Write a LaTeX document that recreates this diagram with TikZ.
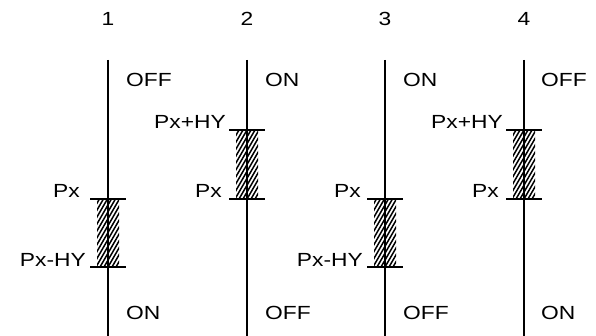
\documentclass[tikz,border=0pt]{standalone}
\usepackage{fontspec}
\setmainfont{Liberation Sans}[FakeStretch=1.2]
\begin{document}
\begin{tikzpicture}[x=1pt,y=-1pt,
  axis/.style={line width=2.2pt},
  tick/.style={line width=2.2pt},
  hatchln/.style={line width=1.5pt},
  lbl/.style={font=\fontsize{19}{21}\selectfont, inner sep=0pt},
  toplbl/.style={lbl, anchor=west},
  ticklbl/.style={lbl, anchor=base east}]
\useasboundingbox (0,0) rectangle (596,336);
\newcommand{\hatchbox}[3]{%
  \begin{scope}
    \clip (#1-11,#2) rectangle (#1+11,#3);
    \foreach \k in {-52,-48,...,12} \draw[hatchln] (#1+\k,#3) -- ++(40,-69);
  \end{scope}}
% axes
\foreach \i/\x in {1/108,2/247,3/385,4/524}{
  \coordinate (t\i) at (\x,60);
  \coordinate (b\i) at (\x,336);
  \node[lbl] (n\i) at (\x,19) {\i};
}
% hatches
\hatchbox{108}{199}{267}
\hatchbox{247}{130}{199}
\hatchbox{385}{199}{267}
\hatchbox{524}{130}{199}
\foreach \i in {1,2,3,4} \draw[axis] (t\i) -- (b\i);
% ticks
\foreach \i/\x/\ya/\yb in {1/108/199/267,2/247/130/199,3/385/199/267,4/524/130/199}{
  \coordinate (ua\i) at (\x-18,\ya); \coordinate (va\i) at (\x+18,\ya);
  \coordinate (ub\i) at (\x-18,\yb); \coordinate (vb\i) at (\x+18,\yb);
  \draw[tick] (ua\i) -- (va\i);
  \draw[tick] (ub\i) -- (vb\i);
}
% state labels
\node[toplbl] (s1t) at (126,80) {OFF};
\node[toplbl] (s2t) at (265,80) {ON};
\node[toplbl] (s3t) at (403,80) {ON};
\node[toplbl] (s4t) at (541,80) {OFF};
\node[toplbl] (s1b) at (126,313) {ON};
\node[toplbl] (s2b) at (265,313) {OFF};
\node[toplbl] (s3b) at (403,313) {OFF};
\node[toplbl] (s4b) at (541,313) {ON};
% tick labels
\node[ticklbl] (p1a) at (80,198) {Px};
\node[ticklbl] (p1b) at (86,266) {Px-HY};
\node[ticklbl] (p2a) at (226,129) {Px+HY};
\node[ticklbl] (p2b) at (222,198) {Px};
\node[ticklbl] (p3a) at (361,198) {Px};
\node[ticklbl] (p3b) at (363,266) {Px-HY};
\node[ticklbl] (p4a) at (503,129) {Px+HY};
\node[ticklbl] (p4b) at (499,198) {Px};
\end{tikzpicture}
\end{document}
